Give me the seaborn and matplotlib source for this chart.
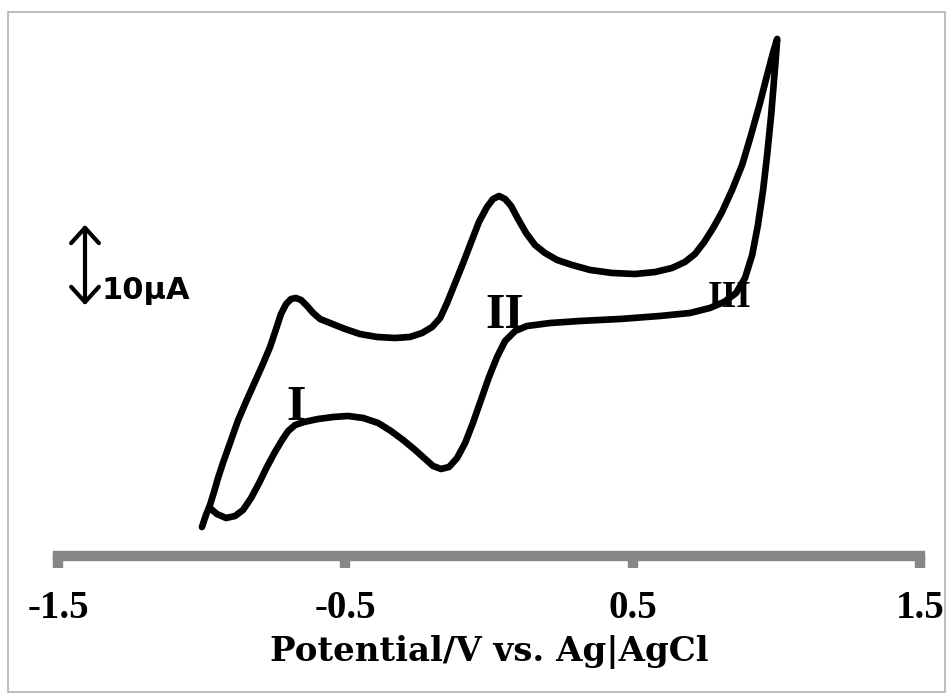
import matplotlib
matplotlib.use('Agg')
import matplotlib.pyplot as plt
from matplotlib.patches import Rectangle
import seaborn as sns
import pandas as pd

# Cyclic voltammogram (V vs Ag|AgCl, current in uA)
potential = [
    -0.999, -0.985, -0.971, -0.957, -0.943, -0.926, -0.905, -0.873, -0.846, -0.818,
    -0.790, -0.762, -0.741, -0.724, -0.706, -0.689, -0.672, -0.654, -0.633, -0.612,
    -0.588, -0.553, -0.501, -0.449, -0.390, -0.327, -0.275, -0.233, -0.198, -0.170,
    -0.146, -0.118, -0.090, -0.062, -0.035, -0.007, 0.014, 0.035, 0.056, 0.077,
    0.101, 0.129, 0.160, 0.195, 0.237, 0.289, 0.352, 0.428, 0.508, 0.578,
    0.637, 0.682, 0.717, 0.749, 0.780, 0.811, 0.846, 0.881, 0.912, 0.943,
    0.968, 0.989, 1.003,
    0.999, 0.992, 0.982, 0.968, 0.954, 0.936, 0.916, 0.891, 0.860, 0.818,
    0.769, 0.700, 0.595, 0.456, 0.317, 0.212, 0.132, 0.091, 0.056, 0.028,
    0.000, -0.028, -0.056, -0.083, -0.111, -0.139, -0.167, -0.195, -0.226, -0.261,
    -0.299, -0.341, -0.386, -0.438, -0.491, -0.543, -0.595, -0.644, -0.675, -0.699,
    -0.720, -0.745, -0.773, -0.800, -0.828, -0.856, -0.884, -0.915, -0.947, -0.971,
]
current = [
    -6.63, -5.23, -4.07, -2.56, -0.93, 0.81, 2.79, 5.81, 7.91, 10.00,
    12.09, 14.30, 16.40, 18.14, 19.30, 19.88, 20.00, 19.77, 19.07, 18.26,
    17.56, 17.09, 16.40, 15.81, 15.47, 15.35, 15.47, 15.93, 16.63, 17.67,
    19.42, 21.74, 24.07, 26.51, 28.84, 30.58, 31.51, 31.86, 31.51, 30.70,
    29.19, 27.56, 26.16, 25.23, 24.42, 23.84, 23.26, 22.91, 22.79, 23.02,
    23.49, 24.19, 25.12, 26.51, 28.14, 30.00, 32.56, 35.47, 38.95, 42.67,
    45.93, 48.60, 50.12,
    48.26, 45.35, 41.28, 36.63, 32.56, 28.49, 25.00, 22.33, 20.58, 19.53,
    18.84, 18.26, 17.91, 17.56, 17.33, 17.09, 16.74, 16.16, 15.00, 13.14,
    10.81, 8.14, 5.47, 3.14, 1.40, 0.35, 0.12, 0.47, 1.40, 2.44,
    3.49, 4.53, 5.47, 6.05, 6.28, 6.16, 5.93, 5.58, 5.23, 4.53,
    3.49, 2.09, 0.35, -1.51, -3.26, -4.65, -5.35, -5.58, -5.12, -4.42,
]
x_ticks = [-1.5, -0.5, 0.5, 1.5]
x_tick_labels = ['-1.5', '-0.5', '0.5', '1.5']
peak_labels = ['I', 'II', 'III']
peak_x = [-0.672, 0.056, 0.836]
peak_y = [5.81, 16.51, 18.95]

sns.set_style('white')
plt.rcParams['axes.unicode_minus'] = False
plt.rcParams['text.color'] = 'black'
plt.rcParams['xtick.color'] = 'black'

cv = pd.DataFrame({'E': potential, 'I': current})

fig = plt.figure(figsize = (9.5, 6.97), dpi = 100)
ax = fig.add_axes([0.06105, 0.2023, 0.90737, 0.76499])

sns.lineplot(data = cv, x = 'E', y = 'I', sort = False, estimator = None,
             color = 'black', linewidth = 4.8, ax = ax)
ax.lines[0].set_solid_joinstyle('round')

ax.set_xlim(-1.5, 1.5)
ax.set_ylim(-10, 52)

axis_grey = '#878787'
for side in ['left', 'top', 'right']:
    ax.spines[side].set_visible(False)
ax.spines['bottom'].set_color(axis_grey)
ax.spines['bottom'].set_linewidth(7.5)

ax.set_yticks([])
ax.set_ylabel('')
ax.set_xticks(x_ticks)
ax.set_xticklabels(x_tick_labels, fontfamily = 'Liberation Serif', fontweight = 'bold',
                   fontsize = 28, color = 'black')
ax.tick_params(axis = 'x', bottom = True, direction = 'out', length = 8.6, width = 7.5,
               color = axis_grey, labelcolor = 'black', pad = 16)
ax.set_xlabel('Potential/V vs. Ag|AgCl', fontfamily = 'DejaVu Serif', fontweight = 'bold',
              fontsize = 24.5, color = 'black', labelpad = 6)

# peak labels
for txt, px, py in zip(peak_labels, peak_x, peak_y):
    size = 27 if txt == 'III' else 36
    ax.text(px, py, txt, ha = 'center', va = 'baseline', fontfamily = 'Liberation Serif',
            fontweight = 'bold', fontsize = size, color = 'black')

# 10 uA scale bar
ax.annotate('', xy = (-1.406, 28.84), xytext = (-1.406, 18.84),
            arrowprops = dict(arrowstyle = '<->, head_length=0.55, head_width=0.5',
                              color = 'black', lw = 3.0, mutation_scale = 20))
ax.text(-1.35, 19.9, '10µA', ha = 'left', va = 'baseline', fontfamily = 'DejaVu Sans',
        fontweight = 'bold', fontsize = 22, color = 'black')

# light outer frame
fig.add_artist(Rectangle((0.00842, 0.00717), 0.98632, 0.97561, transform = fig.transFigure,
                         fill = False, edgecolor = '#b0b0b0', linewidth = 1.2))

fig.savefig('out.png', dpi = 100)
